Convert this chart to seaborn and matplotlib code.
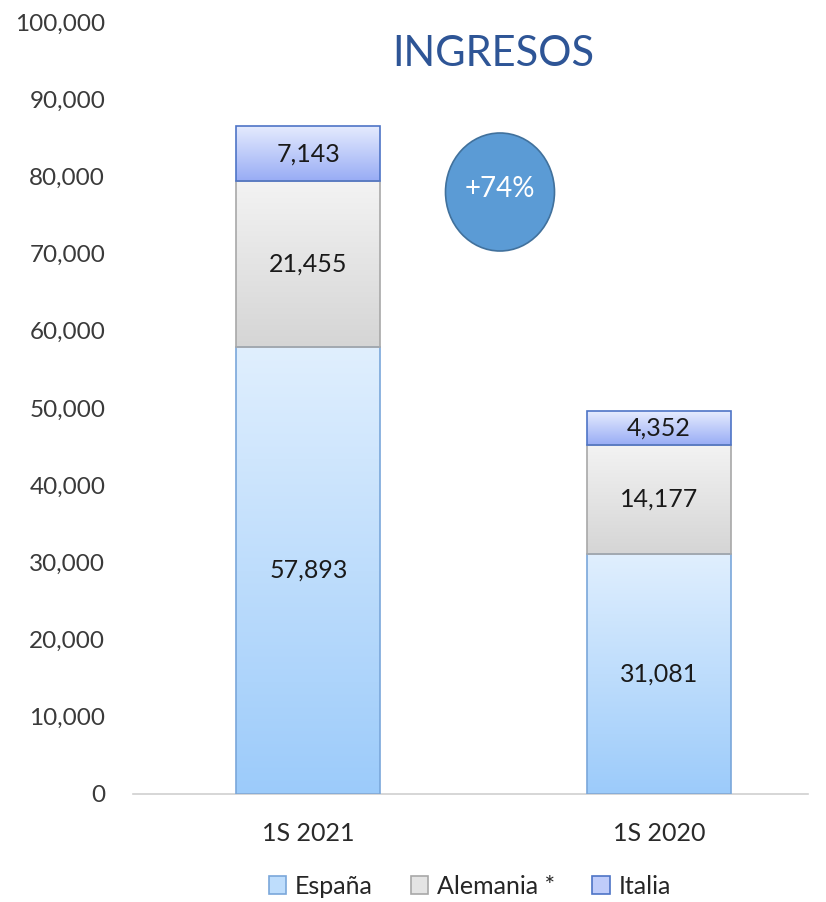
import matplotlib
matplotlib.use("Agg")
import matplotlib.pyplot as plt
from matplotlib.colors import LinearSegmentedColormap
from matplotlib.patches import Ellipse, Patch
import numpy as np
import pandas as pd
import seaborn as sns

# data
periods = ["1S 2021", "1S 2020"]
espana = [57893, 31081]
alemania = [21455, 14177]
italia = [7143, 4352]
series_names = ["España", "Alemania *", "Italia"]
growth_label = "+74%"
title = "INGRESOS"

sns.set_theme(style="white")
plt.rcParams["font.family"] = ["Lato", "DejaVu Sans"]

# (top colour, bottom colour, edge)
styles = {
    "España": ("#E0EFFE", "#9CCBFA", "#7AA7DA"),
    "Alemania *": ("#F3F3F3", "#D5D5D5", "#A8A8A8"),
    "Italia": ("#E6ECFE", "#98ACF5", "#4E74C6"),
}

fig = plt.figure(figsize=(8.26, 9.02), dpi=100)
ax = fig.add_axes([133 / 826, 1 - 794 / 902, (808 - 133) / 826, (794 - 22) / 902])

bottoms = np.zeros(len(periods))
legend_cmaps = {}
for name, vals in zip(series_names, [espana, alemania, italia]):
    top_c, bot_c, edge_c = styles[name]
    df = pd.DataFrame({"period": periods, "value": vals})
    n0 = len(ax.patches)
    sns.barplot(data=df, x="period", y="value", order=periods, bottom=list(bottoms),
                color=bot_c, edgecolor=edge_c, linewidth=1.2, width=0.41,
                zorder=3, ax=ax)
    cmap = LinearSegmentedColormap.from_list(name, [bot_c, top_c])
    legend_cmaps[name] = cmap
    grad = np.linspace(0, 1, 256).reshape(-1, 1)
    for p in ax.patches[n0:]:
        x0, y0, w, h = p.get_x(), p.get_y(), p.get_width(), p.get_height()
        im = ax.imshow(grad, cmap=cmap, origin="lower", aspect="auto",
                       extent=[x0, x0 + w, y0, y0 + h], zorder=2)
        im.set_clip_path(p)
        p.set_facecolor("none")
    ax.bar_label(ax.containers[-1], labels=[f"{v:,}" for v in vals],
                 label_type="center", fontsize=18, color="#1A1A1A")
    bottoms += np.array(vals)

ax.set_xlim(-0.5, 1.425)
ax.set_ylim(0, 100000)
ax.set_yticks(np.arange(0, 100001, 10000))
ax.set_yticklabels([f"{int(t):,}" for t in np.arange(0, 100001, 10000)])
ax.set_xlabel("")
ax.set_ylabel("")
ax.tick_params(axis="y", length=0, pad=20, labelsize=17.5, labelcolor="#3A3A3A")
ax.tick_params(axis="x", length=0, pad=20, labelsize=18, labelcolor="#2A2A2A")
for s in ["left", "right", "top"]:
    ax.spines[s].set_visible(False)
ax.spines["bottom"].set_color("#D0D0D0")
ax.spines["bottom"].set_linewidth(1.2)

# title and growth bubble
fig.text(493 / 826, 1 - 54 / 902, title, ha="center", va="center",
         fontsize=30, color="#2E5596")
circ = Ellipse((500 / 826, 1 - 192 / 902), 109 / 826, 118 / 902,
               transform=fig.transFigure, facecolor="#5B9BD5",
               edgecolor="#41719C", linewidth=1.2, zorder=5)
fig.patches.append(circ)
fig.text(500 / 826, 1 - 189 / 902, growth_label, ha="center", va="center",
         fontsize=20, color="white", zorder=6)

handles = [Patch(facecolor=legend_cmaps[n](0.5), edgecolor=styles[n][2], linewidth=1.2)
           for n in series_names]
fig.legend(handles, series_names, loc="center", bbox_to_anchor=(470 / 826, 1 - 886 / 902),
           ncol=3, frameon=False, fontsize=18, handlelength=0.7, handleheight=0.7,
           handletextpad=0.35, columnspacing=1.5)

fig.savefig("out.png", dpi=100)
